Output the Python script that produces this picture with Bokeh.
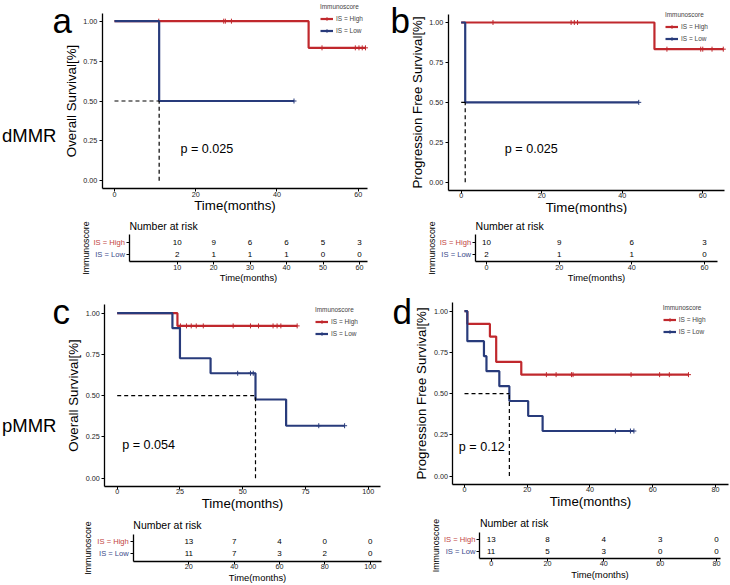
from bokeh.plotting import figure
from bokeh.models import (Range1d, FixedTicker, Label, Legend, LegendItem,
                          PrintfTickFormatter, ColumnDataSource)
from bokeh.layouts import row, column
from bokeh.embed import file_html
from bokeh.resources import INLINE
from bokeh.core.properties import value

FONT = "Liberation Sans"
RED = "#C0282D"
BLUE = "#283B7B"
RED_TXT = "#C2453F"
BLUE_TXT = "#3B4A8A"

# ---------------- data ----------------
group_labels = ["IS = High", "IS = Low"]
legend_title = "Immunoscore"
x_title = "Time(months)"
surv_ticks = [0.0, 0.25, 0.5, 0.75, 1.0]

# Panel a: dMMR, overall survival
a_ytitle = "Overall Survival[%]"
a_xticks = [0, 20, 40, 60]
a_high_times = [47.8]
a_high_surv = [0.833]
a_high_end = 61.8
a_high_censor = [10.9, 26.9, 27.3, 28.8, 51.1, 59.3, 60.2, 61.0, 61.8]
a_low_times = [11.0]
a_low_surv = [0.5]
a_low_end = 44.2
a_low_censor = [44.2]
a_pvalue = "p = 0.025"
a_risk_times = [10, 20, 30, 40, 50, 60]
a_risk_high = [10, 9, 6, 6, 5, 3]
a_risk_low = [2, 1, 1, 1, 0, 0]

# Panel b: dMMR, progression free survival
b_ytitle = "Progression Free Survival[%]"
b_xticks = [0, 20, 40, 60]
b_high_times = [48.0]
b_high_surv = [0.833]
b_high_end = 65.1
b_high_censor = [7.9, 27.3, 28.1, 28.9, 51.1, 59.5, 60.0, 62.3, 65.1]
b_low_times = [1.0]
b_low_surv = [0.5]
b_low_end = 44.1
b_low_censor = [44.1]
b_pvalue = "p = 0.025"
b_risk_times = [0, 20, 40, 60]
b_risk_high = [10, 9, 6, 3]
b_risk_low = [2, 1, 1, 0]

# Panel c: pMMR, overall survival
c_ytitle = "Overall Survival[%]"
c_xticks = [0, 25, 50, 75, 100]
c_high_times = [24.0]
c_high_surv = [0.923]
c_high_end = 71.7
c_high_censor = [25.2, 27.6, 29.5, 31.5, 34.3, 46.2, 53.1, 56.3, 62.1, 63.7, 65.2, 71.7]
c_low_times = [22.0, 25.0, 37.2, 55.1, 67.3]
c_low_surv = [0.909, 0.727, 0.636, 0.477, 0.318]
c_low_end = 90.6
c_low_censor = [48.0, 53.1, 54.2, 80.3, 90.6]
c_pvalue = "p = 0.054"
c_risk_times = [20, 40, 60, 80, 100]
c_risk_high = [13, 7, 4, 0, 0]
c_risk_low = [11, 7, 3, 2, 0]

# Panel d: pMMR, progression free survival
d_ytitle = "Progression Free Survival[%]"
d_xticks = [0, 20, 40, 60, 80]
d_high_times = [0.9, 8.1, 10.1, 18.1]
d_high_surv = [0.923, 0.846, 0.692, 0.615]
d_high_end = 71.4
d_high_censor = [26.1, 29.2, 34.1, 34.6, 53.1, 62.2, 65.3, 71.4]
d_low_times = [0.9, 6.2, 7.0, 11.1, 14.3, 20.3, 24.9]
d_low_surv = [0.818, 0.727, 0.636, 0.545, 0.455, 0.364, 0.273]
d_low_end = 54.0
d_low_censor = [48.1, 52.9, 54.0]
d_pvalue = "p = 0.12"
d_risk_times = [0, 20, 40, 60, 80]
d_risk_high = [13, 8, 4, 3, 0]
d_risk_low = [11, 5, 3, 0, 0]

# ---------------- layout (pixel geometry) ----------------
# box: figure cell (x0, y0, w, h); xr/yr: axis extent in data;
# l, r, t, b: where that axis extent sits on the page (px)
SPEC = {
    "a": dict(box=(0, 0, 372, 214), xr=(-3.0, 62.3), yr=(-0.05, 1.05), l=101.8, r=367.0, t=12.7, b=188.3),
    "b": dict(box=(372, 0, 358, 214), xr=(-3.2, 65.5), yr=(-0.05, 1.05), l=447.8, r=724.4, t=14.0, b=189.7),
    "ta": dict(box=(0, 214, 372, 70), xr=(-3.1, 62.2), yr=(0.4, 2.6), l=128.9, r=367.0, t=234.3, b=261.4),
    "tb": dict(box=(372, 214, 358, 70), xr=(-3.0, 63.5), yr=(0.4, 2.6), l=475.1, r=716.7, t=234.3, b=261.4),
    "c": dict(box=(0, 284, 382, 227), xr=(-5.0, 105.0), yr=(-0.05, 1.05), l=104.15, r=380.25, t=304.45, b=485.95),
    "d": dict(box=(382, 284, 348, 227), xr=(-3.7, 84.0), yr=(-0.05, 1.05), l=452.4, r=727.5, t=302.46, b=483.74),
    "tc": dict(box=(0, 511, 382, 74), xr=(-4.5, 105.0), yr=(0.4, 2.6), l=132.8, r=381.0, t=533.6, b=560.7),
    "td": dict(box=(382, 511, 348, 74), xr=(-4.0, 81.5), yr=(0.4, 2.6), l=479.4, r=720.2, t=532.0, b=557.7),
}
MID = 0.3465  # baseline -> middle offset (fraction of font size)


def px2x(s, px):
    xs, xe = s["xr"]
    return xs + (px - s["l"]) / (s["r"] - s["l"]) * (xe - xs)


def px2y(s, py):
    ys, ye = s["yr"]
    return ye - (py - s["t"]) / (s["b"] - s["t"]) * (ye - ys)


def new_fig(key):
    s = SPEC[key]
    x0, y0, w, h = s["box"]
    xrange = Range1d(px2x(s, x0), px2x(s, x0 + w))
    yrange = Range1d(px2y(s, y0 + h), px2y(s, y0))
    p = figure(width=w, height=h, title=None, x_range=xrange, y_range=yrange,
               output_backend="svg", toolbar_location=None, min_border=0)
    p.xgrid.visible = False
    p.ygrid.visible = False
    p.outline_line_color = None
    p.background_fill_color = "white"
    p.border_fill_color = "white"
    p.xaxis.fixed_location = s["yr"][0]
    p.xaxis.bounds = s["xr"]
    p.yaxis.fixed_location = s["xr"][0]
    p.yaxis.bounds = s["yr"]
    for ax in (p.xaxis[0], p.yaxis[0]):
        ax.axis_line_width = 1.3
        ax.axis_line_color = "black"
        ax.major_tick_in = 0
        ax.major_tick_out = 3
        ax.major_tick_line_color = "black"
        ax.minor_tick_in = 0
        ax.minor_tick_out = 0
        ax.major_label_text_font = FONT
        ax.major_label_text_color = "#222222"
        ax.axis_label_text_font = FONT
        ax.axis_label_text_font_style = "normal"
        ax.axis_label_text_color = "black"
    return p


def step_xy(times, survs, end):
    return [0.0] + list(times) + [end], [1.0] + list(survs) + [survs[-1]]


def surv_at(times, survs, t):
    v = 1.0
    for ti, si in zip(times, survs):
        if ti <= t:
            v = si
    return v


def median_time(times, survs):
    for ti, si in zip(times, survs):
        if si <= 0.5:
            return ti
    return None


def add_text(p, s, px, py_base, text, size, color="black", align="left"):
    p.add_layout(Label(x=px2x(s, px), y=px2y(s, py_base - MID * size), text=text,
                       text_font=FONT, text_font_size=f"{size}px", text_color=color,
                       text_baseline="middle", text_align=align))


def main_panel(key, letter, ytitle, xticks, curves, pvalue, letter_px, pv_px,
               legend_px, group_px=None, group_text=None):
    s = SPEC[key]
    x0, y0, w, h = s["box"]
    p = new_fig(key)
    p.xaxis.ticker = FixedTicker(ticks=xticks)
    p.yaxis.ticker = FixedTicker(ticks=surv_ticks)
    p.yaxis.formatter = PrintfTickFormatter(format="%.2f")
    p.xaxis.axis_label = x_title
    p.yaxis.axis_label = ytitle
    for ax in (p.xaxis[0], p.yaxis[0]):
        ax.major_label_text_font_size = "7.2px"
        ax.axis_label_text_font_size = "13.3px"
    p.xaxis.major_label_standoff = 0
    p.xaxis.axis_label_standoff = -2
    p.yaxis.major_label_standoff = 2
    p.yaxis.axis_label_standoff = 2

    items = []
    for (times, survs, end, cens), color, lab in zip(curves, [RED, BLUE], group_labels):
        xs, ys = step_xy(times, survs, end)
        rl = p.step(xs, ys, mode="after", line_color=color, line_width=2.2)
        cy = [surv_at(times, survs, c) for c in cens]
        rc = p.scatter(cens, cy, marker="cross", size=5, line_color=color, line_width=1)
        items.append(LegendItem(label=lab, renderers=[rl, rc]))

    # median survival reference lines
    for times, survs, end, cens in curves:
        m = median_time(times, survs)
        if m is not None:
            p.line([0, m], [0.5, 0.5], line_color="black", line_width=1.2, line_dash="4 3")
            p.line([m, m], [0, 0.5], line_color="black", line_width=1.2, line_dash="4 3")

    # legend
    TH = 7.0
    LH = TH + 4 + 9 + 3 + 9
    lx, tcy = legend_px
    top_local = tcy - y0 - TH / 2 + 0.5
    vx = lx - x0
    vy = h - (top_local + LH)
    leg = Legend(items=items, location=(vx, vy), title=legend_title,
                 title_text_font=FONT, title_text_font_size="6.4px",
                 title_text_font_style="normal", title_standoff=4,
                 label_text_font=FONT, label_text_font_size="6.5px",
                 glyph_width=13, glyph_height=9, label_height=9,
                 label_standoff=3, spacing=3, padding=0, margin=0,
                 border_line_alpha=0, background_fill_alpha=0)
    p.add_layout(leg)

    add_text(p, s, pv_px[0], pv_px[1], pvalue, 12.6)
    add_text(p, s, letter_px[0], letter_px[1], letter, 35)
    if group_text:
        add_text(p, s, group_px[0], group_px[1], group_text, 18.5)
    return p


def risk_table(key, times, high, low, title_baseline_px, label_standoff):
    s = SPEC[key]
    p = new_fig(key)
    p.xaxis.ticker = FixedTicker(ticks=times)
    p.yaxis.ticker = FixedTicker(ticks=[1, 2])
    p.yaxis.major_label_overrides = {1: "", 2: ""}
    p.xaxis.axis_label = x_title
    p.yaxis.axis_label = legend_title
    p.xaxis.major_label_text_font_size = "7.2px"
    p.xaxis.axis_label_text_font_size = "9.4px"
    p.yaxis.axis_label_text_font_size = "8.8px"
    p.xaxis.major_label_standoff = 0
    p.xaxis.axis_label_standoff = -1
    p.yaxis.major_label_standoff = 0
    p.yaxis.axis_label_standoff = label_standoff

    n = len(times)
    src = ColumnDataSource(dict(x=list(times) + list(times), y=[2] * n + [1] * n,
                                t=[str(v) for v in list(high) + list(low)]))
    p.text(x="x", y="y", text="t", source=src, text_font=value(FONT),
           text_font_size="8px", text_align="center", text_baseline="middle",
           text_color="black")

    lx = px2x(s, s["l"] - 4.5)
    p.add_layout(Label(x=lx, y=2, text=group_labels[0], text_color=RED_TXT,
                       text_font=FONT, text_font_size="7.6px",
                       text_align="right", text_baseline="middle"))
    p.add_layout(Label(x=lx, y=1, text=group_labels[1], text_color=BLUE_TXT,
                       text_font=FONT, text_font_size="7.6px",
                       text_align="right", text_baseline="middle"))
    add_text(p, s, s["l"], title_baseline_px, "Number at risk", 10.5)
    return p


pa = main_panel("a", "a", a_ytitle, a_xticks,
                [(a_high_times, a_high_surv, a_high_end, a_high_censor),
                 (a_low_times, a_low_surv, a_low_end, a_low_censor)],
                a_pvalue, (52, 32.5), (180, 153), (320, 6), (1.5, 141.7), "dMMR")
pb = main_panel("b", "b", b_ytitle, b_xticks,
                [(b_high_times, b_high_surv, b_high_end, b_high_censor),
                 (b_low_times, b_low_surv, b_low_end, b_low_censor)],
                b_pvalue, (390, 32.5), (504.3, 153.3), (665, 14))
pc = main_panel("c", "c", c_ytitle, c_xticks,
                [(c_high_times, c_high_surv, c_high_end, c_high_censor),
                 (c_low_times, c_low_surv, c_low_end, c_low_censor)],
                c_pvalue, (52, 323), (121.7, 449.3), (315, 309), (1.5, 431.7), "pMMR")
pd_ = main_panel("d", "d", d_ytitle, d_xticks,
                 [(d_high_times, d_high_surv, d_high_end, d_high_censor),
                  (d_low_times, d_low_surv, d_low_end, d_low_censor)],
                 d_pvalue, (392, 323), (458.3, 451), (662.7, 307))

ta = risk_table("ta", a_risk_times, a_risk_high, a_risk_low, 229.3, 36)
tb = risk_table("tb", b_risk_times, b_risk_high, b_risk_low, 229.3, 36)
tc = risk_table("tc", c_risk_times, c_risk_high, c_risk_low, 527.7, 38)
td = risk_table("td", d_risk_times, d_risk_high, d_risk_low, 525.7, 36)

layout = column(row(pa, pb), row(ta, tb), row(pc, pd_), row(tc, td))

with open("out.html", "w") as f:
    f.write(file_html(layout, INLINE))
